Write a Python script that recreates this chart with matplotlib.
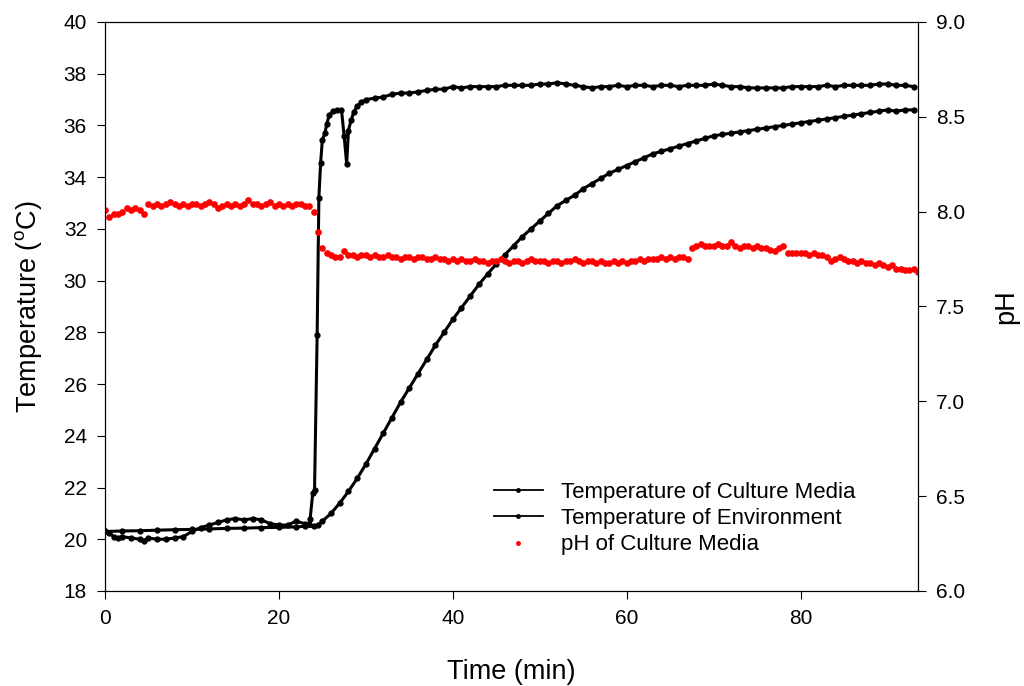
import matplotlib.pyplot as plt
from matplotlib.lines import Line2D
import numpy as np

plt.rcParams['font.family'] = ['Liberation Sans', 'DejaVu Sans']

# temperature of environment (step to ~37.5 at about 24 min)
env_t = [0, 0.5, 1, 1.5, 2, 3, 4, 4.5, 5, 6, 7, 8, 9, 10, 11, 12, 13, 14, 15, 16,
         17, 18, 19, 20, 21, 22, 23, 23.5, 23.6, 23.9, 24.1, 24.4, 24.6, 24.8, 25.0,
         25.3, 25.5, 25.8, 26.2, 26.7, 27.2, 27.5, 27.8, 28.0, 28.3, 28.6, 29, 29.5,
         30, 31, 32, 33, 34, 35, 36, 37, 38, 39, 40, 41, 42, 43, 44, 45, 46, 47, 48,
         49, 50, 51, 52, 53, 54, 55, 56, 57, 58, 59, 60, 61, 62, 63, 64, 65, 66, 67,
         68, 69, 70, 71, 72, 73, 74, 75, 76, 77, 78, 79, 80, 81, 82, 83, 84, 85, 86,
         87, 88, 89, 90, 91, 92, 93]
env_T = [20.3, 20.25, 20.1, 20.05, 20.1, 20.05, 20.0, 19.95, 20.05, 20.0, 20.0, 20.05,
         20.1, 20.3, 20.45, 20.55, 20.65, 20.75, 20.8, 20.75, 20.8, 20.75, 20.6, 20.55,
         20.55, 20.7, 20.6, 20.6, 20.8, 21.8, 21.9, 27.9, 33.2, 34.55, 35.45, 35.7,
         36.05, 36.4, 36.55, 36.6, 36.6, 35.6, 34.5, 35.8, 36.2, 36.5, 36.75, 36.9,
         37.0, 37.05, 37.1, 37.2, 37.25, 37.25, 37.3, 37.35, 37.4, 37.4, 37.5, 37.45,
         37.5, 37.5, 37.5, 37.5, 37.55, 37.55, 37.55, 37.55, 37.6, 37.6, 37.65, 37.6,
         37.55, 37.5, 37.45, 37.5, 37.5, 37.55, 37.5, 37.55, 37.55, 37.5, 37.55, 37.55,
         37.5, 37.55, 37.55, 37.55, 37.6, 37.55, 37.5, 37.5, 37.45, 37.45, 37.45, 37.45,
         37.45, 37.5, 37.5, 37.5, 37.5, 37.55, 37.5, 37.55, 37.55, 37.55, 37.55, 37.6,
         37.6, 37.55, 37.55, 37.5]

# temperature of culture media (slow rise)
media_t = [0, 2, 4, 6, 8, 10, 12, 14, 16, 18, 20, 22, 23, 24, 24.5, 25, 26, 27, 28, 29,
           30, 31, 32, 33, 34, 35, 36, 37, 38, 39, 40, 41, 42, 43, 44, 45, 46, 47, 48,
           49, 50, 51, 52, 53, 54, 55, 56, 57, 58, 59, 60, 61, 62, 63, 64, 65, 66, 67,
           68, 69, 70, 71, 72, 73, 74, 75, 76, 77, 78, 79, 80, 81, 82, 83, 84, 85, 86,
           87, 88, 89, 90, 91, 92, 93]
media_T = [20.3, 20.32, 20.33, 20.35, 20.37, 20.38, 20.4, 20.42, 20.43, 20.45, 20.46,
           20.48, 20.5, 20.5, 20.55, 20.7, 21.0, 21.4, 21.85, 22.35, 22.9, 23.5, 24.1,
           24.7, 25.3, 25.85, 26.4, 26.95, 27.5, 28.0, 28.5, 28.95, 29.4, 29.85, 30.25,
           30.65, 31.0, 31.35, 31.7, 32.0, 32.3, 32.6, 32.9, 33.1, 33.3, 33.55, 33.75,
           33.95, 34.15, 34.3, 34.45, 34.6, 34.75, 34.9, 35.0, 35.1, 35.2, 35.3, 35.4,
           35.5, 35.6, 35.65, 35.7, 35.75, 35.8, 35.85, 35.9, 35.95, 36.0, 36.05, 36.1,
           36.15, 36.2, 36.25, 36.3, 36.35, 36.4, 36.45, 36.5, 36.55, 36.6, 36.55, 36.6,
           36.6]

# pH of culture media, one reading every 0.5 min
ph_t = np.arange(0, 94, 0.5)
ph = [8.01, 7.97, 7.99, 7.99, 8.00, 8.02, 8.01, 8.02, 8.01, 7.99,
      8.04, 8.03, 8.04, 8.03, 8.04, 8.05, 8.04, 8.03, 8.04, 8.03,
      8.04, 8.04, 8.03, 8.04, 8.05, 8.04, 8.02, 8.03, 8.04, 8.03,
      8.04, 8.03, 8.04, 8.06, 8.04, 8.04, 8.03, 8.04, 8.05, 8.03,
      8.04, 8.03, 8.04, 8.03, 8.04, 8.04, 8.03, 8.03, 8.00, 7.89,
      7.81, 7.78, 7.77, 7.76, 7.76, 7.79, 7.77, 7.77, 7.76, 7.77,
      7.77, 7.76, 7.77, 7.76, 7.76, 7.77, 7.76, 7.76, 7.75, 7.76,
      7.76, 7.75, 7.76, 7.76, 7.75, 7.75, 7.76, 7.75, 7.75, 7.74,
      7.75, 7.74, 7.75, 7.74, 7.74, 7.75, 7.74, 7.74, 7.73, 7.74,
      7.74, 7.75, 7.74, 7.73, 7.74, 7.74, 7.73, 7.74, 7.75, 7.74,
      7.74, 7.74, 7.73, 7.74, 7.74, 7.73, 7.74, 7.74, 7.75, 7.74,
      7.73, 7.74, 7.74, 7.73, 7.74, 7.73, 7.73, 7.74, 7.73, 7.74,
      7.73, 7.74, 7.74, 7.75, 7.74, 7.75, 7.75, 7.75, 7.76, 7.75,
      7.76, 7.75, 7.76, 7.76, 7.75, 7.81, 7.82, 7.83, 7.82, 7.82,
      7.82, 7.83, 7.82, 7.82, 7.84, 7.82, 7.81, 7.82, 7.82, 7.81,
      7.82, 7.81, 7.81, 7.80, 7.79, 7.81, 7.82, 7.78, 7.78, 7.78,
      7.78, 7.78, 7.77, 7.78, 7.77, 7.77, 7.76, 7.74, 7.75, 7.76,
      7.75, 7.74, 7.74, 7.73, 7.74, 7.73, 7.73, 7.72, 7.73, 7.72,
      7.71, 7.72, 7.70, 7.70, 7.69, 7.69, 7.70, 7.68]

fig = plt.figure(figsize=(10.24, 6.86), dpi=100)
ax = fig.add_axes([0.1025, 0.1385, 0.794, 0.8295])
ax.plot(media_t, media_T, c="k", lw=2.2, marker="o", ms=3.5)
ax.plot(env_t, env_T, c="k", lw=2.2, marker="o", ms=3.5)
ax.set_xlim(0, 93.5)
ax.set_ylim(18, 40)
ax.set_yticks(np.arange(18, 41, 2))
ax.set_xticks([0, 20, 40, 60, 80])
ax.set_xlabel("Time (min)", fontsize=19.5, labelpad=22)
ax.set_ylabel("Temperature (" + r"$^\mathregular{o}$" + "C)", fontsize=19.5, labelpad=14)
ax.tick_params(direction="out", length=6, labelsize=15, pad=7)

ax2 = ax.twinx()
ax2.plot(ph_t, ph, ls="none", marker="o", ms=3.8, c="red", mec="red")
ax2.set_ylim(6.0, 9.0)
ax2.set_yticks(np.arange(6.0, 9.01, 0.5))
ax2.set_yticklabels(["%.1f" % v for v in np.arange(6.0, 9.01, 0.5)])
ax2.set_ylabel("pH", fontsize=19.5, labelpad=20)
ax2.tick_params(direction="out", length=6, labelsize=15, pad=7)

handles = [Line2D([], [], c="k", lw=1.3, marker="o", ms=2.5),
           Line2D([], [], c="k", lw=1.3, marker="o", ms=2.5),
           Line2D([], [], ls="none", c="red", marker="o", ms=2.5)]
labels = ["Temperature of Culture Media", "Temperature of Environment", "pH of Culture Media"]
ax2.legend(handles, labels, loc="upper left", bbox_to_anchor=(0.4629, 0.3265),
           bbox_transform=fig.transFigure, frameon=False, fontsize=16,
           handlelength=2.2, handletextpad=0.8, labelspacing=0.235, numpoints=1,
           borderpad=0.4)

fig.savefig("out.png", dpi=100)
